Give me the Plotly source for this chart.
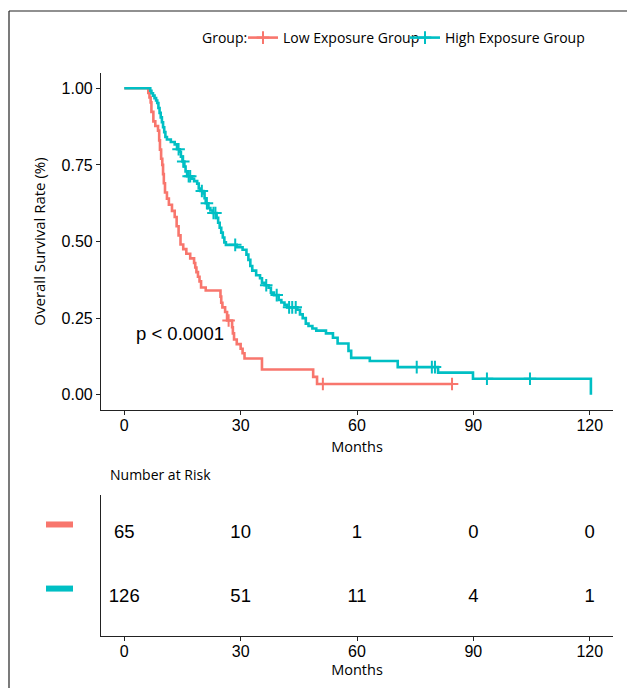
import plotly.graph_objects as go

# ---------------- data ----------------
group_names = ["Low Exposure Group", "High Exposure Group"]
legend_title = "Group:"

low_time = [0, 6.2, 6.5, 6.8, 7.0, 7.5, 8.0, 8.7, 9.0, 9.2, 9.5, 9.8, 10.0, 10.2,
            10.5, 11.0, 11.5, 12.3, 13.0, 13.5, 14.0, 14.5, 15.2, 16.0, 17.0, 18.0,
            18.3, 18.6, 19.0, 19.4, 19.8, 21.0, 24.8, 25.0, 25.3, 26.0, 26.5, 27.8,
            28.0, 28.3, 29.0, 30.0, 30.5, 31.0, 35.5, 48.7, 49.7, 84.5]
low_surv = [1.0, 0.985, 0.97, 0.954, 0.923, 0.892, 0.877, 0.862, 0.83, 0.80, 0.77,
            0.75, 0.72, 0.69, 0.66, 0.64, 0.62, 0.60, 0.58, 0.55, 0.52, 0.49, 0.475,
            0.46, 0.445, 0.43, 0.415, 0.40, 0.385, 0.37, 0.35, 0.34, 0.32, 0.30,
            0.285, 0.27, 0.242, 0.22, 0.20, 0.18, 0.165, 0.15, 0.135, 0.118, 0.082,
            0.058, 0.035, 0.035]
low_censor_time = [26.9, 51.2, 84.5]
low_censor_surv = [0.242, 0.035, 0.035]

high_time = [0, 6.7, 7.0, 7.4, 7.8, 8.2, 8.5, 8.8, 9.1, 9.4, 9.7, 10.0, 10.3, 10.6,
             11.0, 12.0, 13.0, 13.6, 14.3, 14.6, 15.0, 15.5, 15.8, 16.2, 17.5, 18.0,
             18.8, 19.2, 19.6, 20.4, 20.7, 21.0, 21.7, 22.2, 22.8, 23.8, 24.2, 24.6,
             25.0, 25.4, 25.8, 26.2, 29.0, 30.5, 31.5, 32.0, 32.5, 33.0, 34.0, 35.0,
             35.5, 36.2, 37.2, 37.8, 38.6, 39.8, 40.5, 41.3, 42.0, 44.6, 45.3, 46.0,
             46.8, 47.5, 48.5, 49.5, 52.0, 53.8, 55.0, 57.8, 58.5, 63.3, 70.5, 80.9,
             89.9, 120.3]
high_surv = [1.0, 0.992, 0.984, 0.976, 0.968, 0.96, 0.952, 0.936, 0.92, 0.905, 0.889,
             0.873, 0.857, 0.841, 0.833, 0.825, 0.817, 0.801, 0.793, 0.777, 0.761,
             0.745, 0.729, 0.713, 0.705, 0.697, 0.689, 0.673, 0.665, 0.657, 0.641,
             0.625, 0.609, 0.601, 0.593, 0.577, 0.561, 0.545, 0.529, 0.513, 0.497,
             0.489, 0.481, 0.473, 0.457, 0.44, 0.42, 0.405, 0.39, 0.38, 0.365, 0.357,
             0.349, 0.333, 0.325, 0.309, 0.301, 0.293, 0.285, 0.277, 0.262, 0.25,
             0.232, 0.224, 0.216, 0.209, 0.20, 0.186, 0.167, 0.143, 0.12, 0.11, 0.09,
             0.072, 0.052, 0.0]
high_censor_time = [14.0, 15.2, 16.6, 17.0, 20.0, 21.3, 23.0, 23.5, 28.6, 36.6, 39.3,
                    42.5, 43.3, 44.2, 75.4, 79.3, 80.1, 93.5, 104.6]
high_censor_surv = [0.801, 0.761, 0.713, 0.713, 0.665, 0.625, 0.593, 0.593, 0.489,
                    0.357, 0.325, 0.285, 0.285, 0.285, 0.09, 0.09, 0.09, 0.052, 0.052]

risk_times = [0, 30, 60, 90, 120]
risk_low = [65, 10, 1, 0, 0]
risk_high = [126, 51, 11, 4, 1]

x_ticks = [0, 30, 60, 90, 120]
y_ticks = [0.0, 0.25, 0.50, 0.75, 1.00]
y_ticklabels = ["0.00", "0.25", "0.50", "0.75", "1.00"]
p_text = "p < 0.0001"

# ---------------- styling / layout ----------------
RED = "#F8766D"
TEAL = "#00BFC4"
OFF = 8                      # page body margin of the browser
W, H = 635 - OFF, 688 - OFF  # figure size so it fits the window
ML = 101 - OFF
MT = 73 - OFF
MR = 635 - 613
MB = 688 - 636
PW = W - ML - MR
PH = H - MT - MB


def px_x(px):  # reference page pixel -> paper
    return (px - OFF - ML) / PW


def px_y(py):
    return (H - MB - (py - OFF)) / PH


TXT = "Open Sans"
NUM = "Liberation Sans, Arial"

fig = go.Figure()

for t, s, ct, cs, col, name, leg in [
    (low_time, low_surv, low_censor_time, low_censor_surv, RED, group_names[0], "legend"),
    (high_time, high_surv, high_censor_time, high_censor_surv, TEAL, group_names[1], "legend2"),
]:
    fig.add_trace(go.Scatter(x=t, y=s, mode="lines", line=dict(color=col, width=2.6, shape="hv"),
                             showlegend=False, hoverinfo="skip", xaxis="x", yaxis="y"))
    fig.add_trace(go.Scatter(x=ct, y=cs, mode="markers",
                             marker=dict(symbol="cross-thin", size=9, line=dict(color=col, width=2)),
                             showlegend=False, hoverinfo="skip", xaxis="x", yaxis="y"))
    fig.add_trace(go.Scatter(x=[None], y=[None], mode="lines+markers", name=name, legend=leg,
                             line=dict(color=col, width=2.6),
                             marker=dict(symbol="cross-thin", size=9, line=dict(color=col, width=2)),
                             xaxis="x", yaxis="y"))

# risk table
for vals, yv in [(risk_low, 2), (risk_high, 1)]:
    fig.add_trace(go.Scatter(x=risk_times, y=[yv] * len(risk_times), mode="text",
                             text=[str(v) for v in vals],
                             textfont=dict(family=NUM, size=18.5, color="black"),
                             showlegend=False, hoverinfo="skip", xaxis="x2", yaxis="y2"))

main_bottom = px_y(410)
table_top = px_y(495)

axis_common = dict(showline=True, linecolor="#222222", linewidth=1.2, ticks="outside",
                   ticklen=4, tickcolor="#222222", tickwidth=1.1, showgrid=False,
                   zeroline=False, automargin=False,
                   tickfont=dict(family=NUM, size=16, color="black"))

legend_common = dict(orientation="h", xanchor="left", yanchor="middle", y=px_y(38),
                     font=dict(family=TXT, size=14, color="black"), itemwidth=30,
                     bgcolor="rgba(0,0,0,0)")

fig.update_layout(
    width=W, height=H,
    margin=dict(l=ML, r=MR, t=MT, b=MB),
    plot_bgcolor="white", paper_bgcolor="white",
    xaxis=dict(domain=[0, 1], range=[-6, 126], tickvals=x_ticks, anchor="y", ticklabelstandoff=-3,
               title=dict(text="Months", standoff=8, font=dict(family=TXT, size=14.5, color="black")),
               **axis_common),
    yaxis=dict(domain=[main_bottom, 1], range=[-0.05, 1.05], tickvals=y_ticks, ticktext=y_ticklabels,
               anchor="x",
               title=dict(text="Overall Survival Rate (%)", standoff=12,
                          font=dict(family=TXT, size=15, color="black")),
               **axis_common),
    xaxis2=dict(domain=[0, 1], range=[-6, 126], tickvals=x_ticks, anchor="y2", ticklabelstandoff=-3,
                title=dict(text="Months", standoff=3, font=dict(family=TXT, size=14.5, color="black")),
                **axis_common),
    yaxis2=dict(domain=[0, table_top], range=[0.4, 2.6], anchor="x2", showline=True,
                linecolor="#222222", linewidth=1.2, showticklabels=False, ticks="",
                showgrid=False, zeroline=False, automargin=False),
    legend=dict(x=px_x(243), **legend_common),
    legend2=dict(x=px_x(405), **legend_common),
    showlegend=True,
)

# legend heading
fig.add_annotation(x=px_x(200), y=px_y(38), xref="paper", yref="paper", text=legend_title,
                   showarrow=False, xanchor="left", yanchor="middle",
                   font=dict(family=TXT, size=14, color="black"))

# p-value
fig.add_annotation(x=2.5, y=0.2, xref="x", yref="y", text=p_text, showarrow=False,
                   xanchor="left", yanchor="middle", font=dict(family=NUM, size=18.5, color="black"))

# Number at risk title
fig.add_annotation(x=px_x(108), y=px_y(474), xref="paper", yref="paper", text="Number at Risk",
                   showarrow=False, xanchor="left", yanchor="middle",
                   font=dict(family=TXT, size=14, color="black"))

# colour keys in the risk table
for yv, col in [(2, RED), (1, TEAL)]:
    fig.add_shape(type="line", xref="paper", yref="y2", x0=px_x(46), x1=px_x(73),
                  y0=yv + 0.14, y1=yv + 0.14, line=dict(color=col, width=6))

# outer frame (top and left edges)
fig.add_shape(type="line", xref="paper", yref="paper", x0=px_x(9), x1=px_x(650),
              y0=px_y(11), y1=px_y(11), line=dict(color="#222222", width=1.2))
fig.add_shape(type="line", xref="paper", yref="paper", x0=px_x(9), x1=px_x(9),
              y0=px_y(11), y1=px_y(700), line=dict(color="#222222", width=1.2))

fig.write_html("out.html")
